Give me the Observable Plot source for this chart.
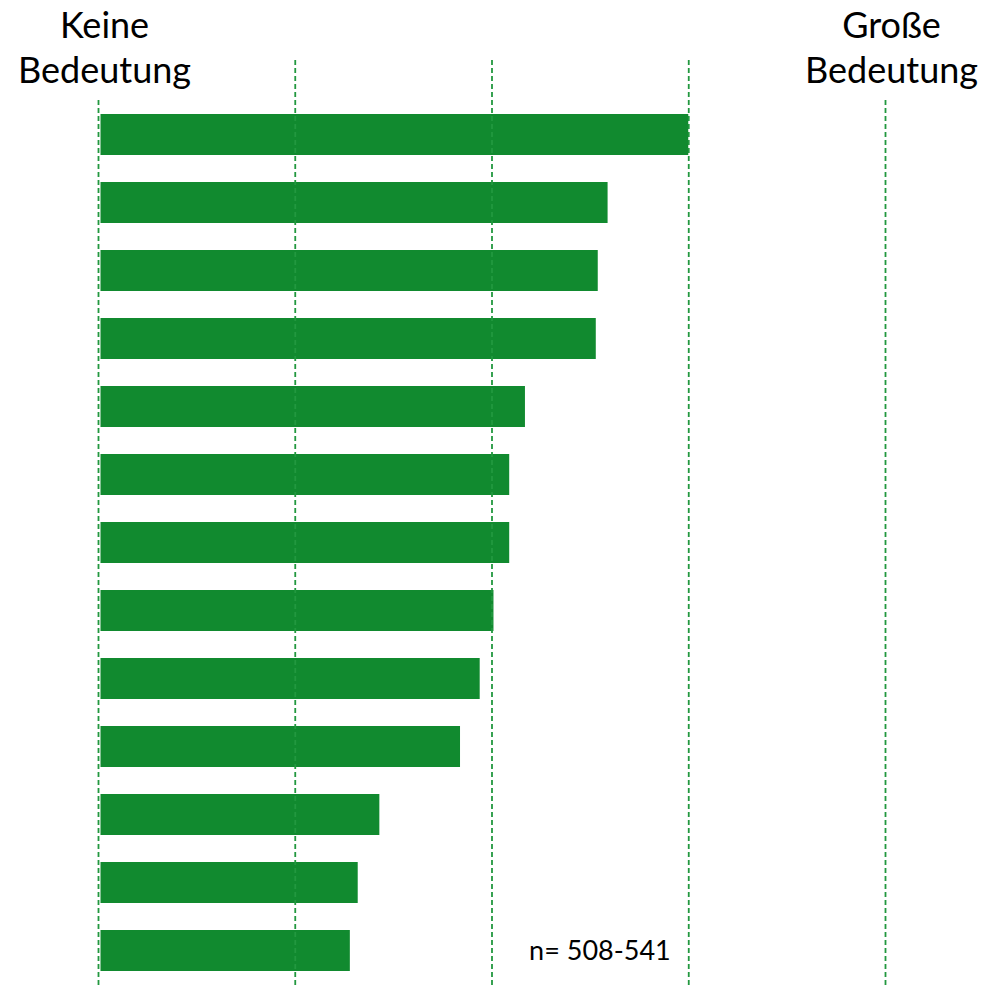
<!DOCTYPE html>
<html>
<head>
<meta charset="utf-8">
<script src="https://cdn.jsdelivr.net/npm/d3@7"></script>
<script src="https://cdn.jsdelivr.net/npm/@observablehq/plot@0.6"></script>
<style>
  html, body { margin: 0; padding: 0; background: #fff; }
</style>
</head>
<body>
<div id="chart"></div>
<script>
const categories = ["1","2","3","4","5","6","7","8","9","10","11","12","13"];
const values = [4.00, 3.59, 3.54, 3.53, 3.17, 3.09, 3.09, 3.01, 2.94, 2.84, 2.43, 2.32, 2.28];
const gridMid = [2, 3, 4];
const gridEnds = [1, 5];
const endLabels = ["Keine\nBedeutung", "Große\nBedeutung"];
const note = "n= 508-541";

const data = categories.map((c, i) => ({cat: c, value: values[i]}));
const labels = gridEnds.map((x, i) => ({x, label: endLabels[i]}));

const barColor = "#118a2f";
const gridColor = "#22983f";

const chart = Plot.plot({
  width: 999,
  height: 985,
  marginTop: 100,
  marginBottom: 0,
  marginLeft: 98,
  marginRight: 114,
  style: {fontFamily: "Lato", background: "#fff", color: "#000"},
  x: {domain: [1, 5], axis: null},
  y: {domain: categories, axis: null, paddingInner: 0.4, paddingOuter: 0.2},
  marks: [
    Plot.barX(data, {x1: 1, x2: "value", y: "cat", fill: barColor, insetLeft: 2.5}),
    Plot.ruleX(gridMid, {stroke: gridColor, strokeWidth: 1.8, strokeDasharray: "5,3", insetTop: -40}),
    Plot.ruleX(gridEnds, {stroke: gridColor, strokeWidth: 1.8, strokeDasharray: "5,3"}),
    Plot.text(labels, {x: "x", text: "label", frameAnchor: "top", lineAnchor: "bottom", dy: -18, dx: 6, fontSize: 36, lineHeight: 1.25, fill: "#000"}),
    Plot.text([{x: 4, y: categories[categories.length - 1], t: note}], {x: "x", y: "y", text: "t", textAnchor: "end", dx: -18, fontSize: 27, fill: "#000"})
  ]
});
document.getElementById("chart").appendChild(chart);
</script>
</body>
</html>
